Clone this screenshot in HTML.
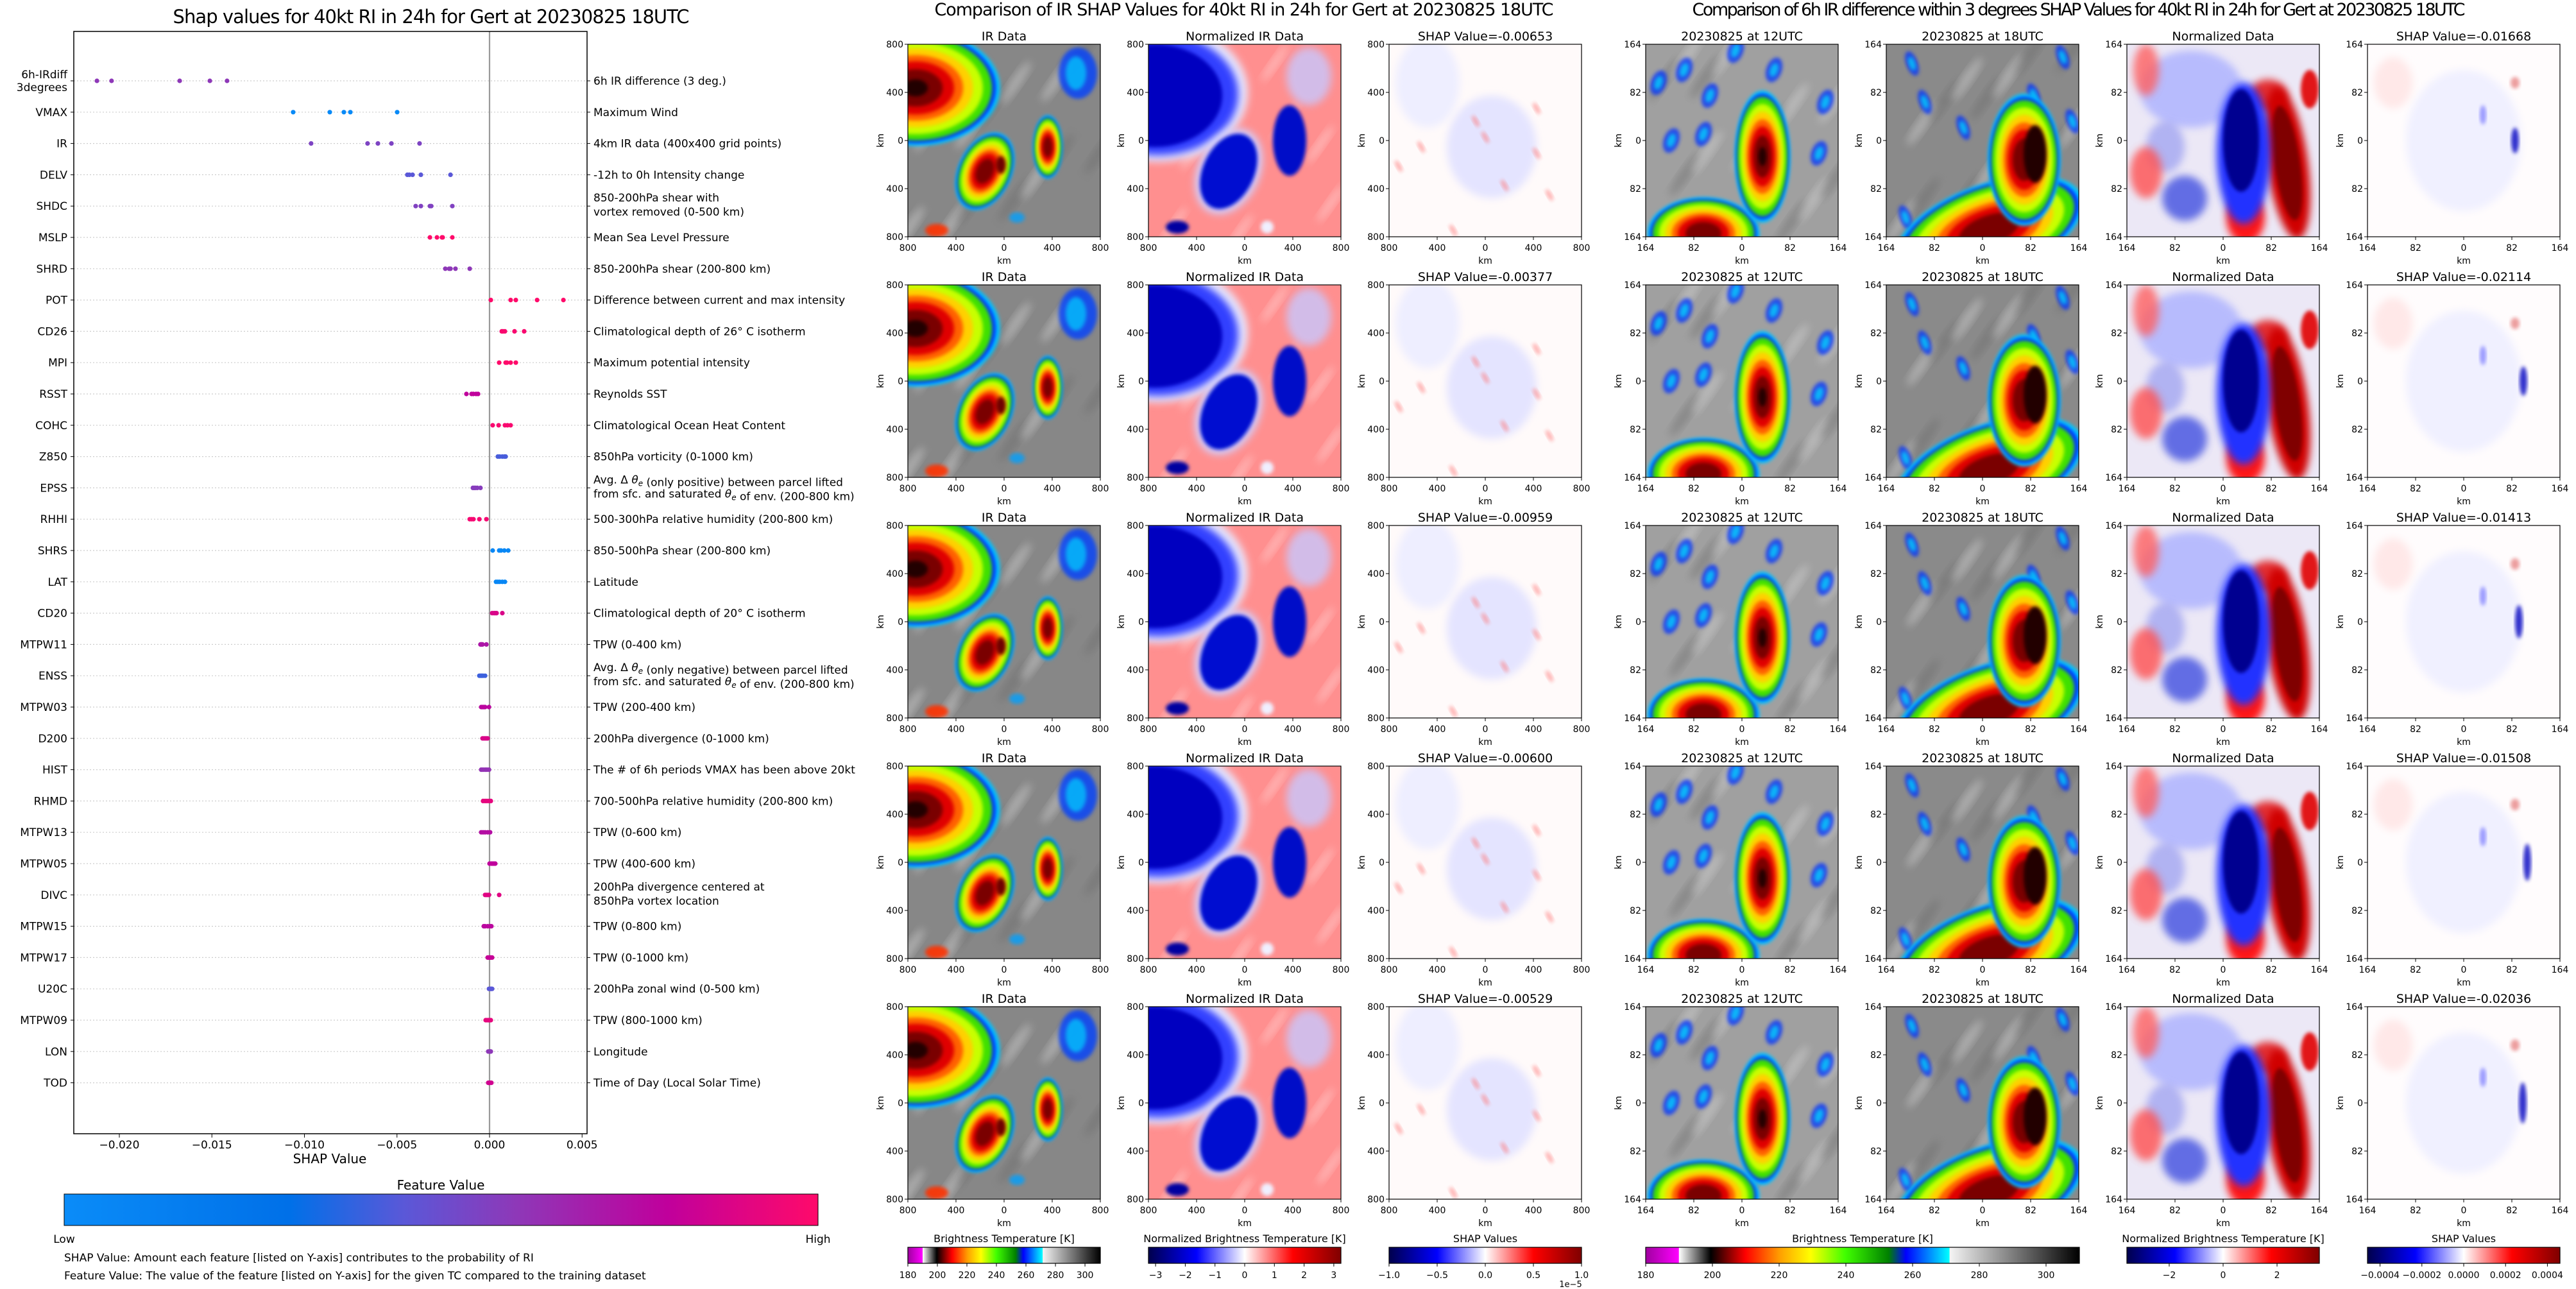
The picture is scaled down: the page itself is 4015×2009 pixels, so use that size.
<!DOCTYPE html>
<html><head><meta charset="utf-8"><style>
html,body{margin:0;padding:0;background:#fff;width:4015px;height:2009px;overflow:hidden}
svg{display:block;font-family:"DejaVu Sans","Liberation Sans",sans-serif}
</style></head><body>
<svg id="fig" xmlns="http://www.w3.org/2000/svg" width="4015" height="2009" viewBox="0 0 4015 2009">
<defs>
<filter id="blur3" x="-20%" y="-20%" width="140%" height="140%"><feGaussianBlur stdDeviation="3"/></filter>
<filter id="blur6" x="-30%" y="-30%" width="160%" height="160%"><feGaussianBlur stdDeviation="6"/></filter>
<linearGradient id="gFeat" x1="0" x2="1" y1="0" y2="0">
<stop offset="0" stop-color="#0a8cf8"/><stop offset="0.3" stop-color="#0070e8"/><stop offset="0.45" stop-color="#5a58d8"/><stop offset="0.6" stop-color="#8e38b8"/><stop offset="0.8" stop-color="#c0009c"/><stop offset="1" stop-color="#ff0a6a"/>
</linearGradient>
<linearGradient id="gIR" x1="0" x2="1" y1="0" y2="0">
<stop offset="0" stop-color="#a000a0"/><stop offset="0.076" stop-color="#ff00ff"/><stop offset="0.077" stop-color="#ffffff"/><stop offset="0.15" stop-color="#000000"/><stop offset="0.19" stop-color="#800000"/><stop offset="0.23" stop-color="#ff0000"/><stop offset="0.31" stop-color="#ffa000"/><stop offset="0.38" stop-color="#ffff00"/><stop offset="0.46" stop-color="#40ff00"/><stop offset="0.56" stop-color="#008000"/><stop offset="0.6" stop-color="#0000ff"/><stop offset="0.7" stop-color="#00ffff"/><stop offset="0.701" stop-color="#f4f4f4"/><stop offset="1" stop-color="#000000"/>
</linearGradient>
<linearGradient id="gSeis" x1="0" x2="1" y1="0" y2="0">
<stop offset="0" stop-color="#00004c"/><stop offset="0.25" stop-color="#0000ff"/><stop offset="0.5" stop-color="#ffffff"/><stop offset="0.75" stop-color="#ff0000"/><stop offset="1" stop-color="#7f0000"/>
</linearGradient>
</defs>
</svg>
<script>
// ---------- data ----------
const features = ["6h-IRdiff","VMAX","IR","DELV","SHDC","MSLP","SHRD","POT","CD26","MPI","RSST","COHC","Z850","EPSS","RHHI","SHRS","LAT","CD20","MTPW11","ENSS","MTPW03","D200","HIST","RHMD","MTPW13","MTPW05","DIVC","MTPW15","MTPW17","U20C","MTPW09","LON","TOD"];
const descriptions = [["6h IR difference (3 deg.)"],["Maximum Wind"],["4km IR data (400x400 grid points)"],["-12h to 0h Intensity change"],["850-200hPa shear with","vortex removed (0-500 km)"],["Mean Sea Level Pressure"],["850-200hPa shear (200-800 km)"],["Difference between current and max intensity"],["Climatological depth of 26° C isotherm"],["Maximum potential intensity"],["Reynolds SST"],["Climatological Ocean Heat Content"],["850hPa vorticity (0-1000 km)"],["Avg. Δ θe (only positive) between parcel lifted","from sfc. and saturated θe of env. (200-800 km)"],["500-300hPa relative humidity (200-800 km)"],["850-500hPa shear (200-800 km)"],["Latitude"],["Climatological depth of 20° C isotherm"],["TPW (0-400 km)"],["Avg. Δ θe (only negative) between parcel lifted","from sfc. and saturated θe of env. (200-800 km)"],["TPW (200-400 km)"],["200hPa divergence (0-1000 km)"],["The # of 6h periods VMAX has been above 20kt"],["700-500hPa relative humidity (200-800 km)"],["TPW (0-600 km)"],["TPW (400-600 km)"],["200hPa divergence centered at","850hPa vortex location"],["TPW (0-800 km)"],["TPW (0-1000 km)"],["200hPa zonal wind (0-500 km)"],["TPW (800-1000 km)"],["Longitude"],["Time of Day (Local Solar Time)"]];
const shapValues = [
[-0.02121,-0.02042,-0.01674,-0.01511,-0.01418],
[-0.01061,-0.00863,-0.00787,-0.00752,-0.00499],
[-0.00964,-0.00659,-0.00603,-0.00530,-0.00378],
[-0.00444,-0.00433,-0.00416,-0.00371,-0.00211],
[-0.00399,-0.00371,-0.00322,-0.00315,-0.00201],
[-0.00322,-0.00284,-0.00257,-0.00253,-0.00201],
[-0.00239,-0.00218,-0.00211,-0.00184,-0.00107],
[0.00007,0.00114,0.00142,0.00257,0.00399],
[0.00066,0.00073,0.00083,0.00135,0.00187],
[0.00052,0.00087,0.00094,0.00114,0.00142],
[-0.00125,-0.00097,-0.00087,-0.00073,-0.00062],
[0.00017,0.00049,0.00083,0.00097,0.00114],
[0.00045,0.00055,0.00069,0.00080,0.00087],
[-0.00090,-0.00083,-0.00076,-0.00066,-0.00049],
[-0.00107,-0.00097,-0.00087,-0.00055,-0.00017],
[0.00017,0.00052,0.00062,0.00080,0.00101],
[0.00035,0.00045,0.00055,0.00069,0.00083],
[0.00014,0.00024,0.00031,0.00038,0.00069],
[-0.00049,-0.00045,-0.00042,-0.00038,-0.00017],
[-0.00055,-0.00048,-0.00042,-0.00035,-0.00024],
[-0.00045,-0.00038,-0.00031,-0.00024,-0.00003],
[-0.00038,-0.00031,-0.00024,-0.00017,-0.00010],
[-0.00045,-0.00035,-0.00024,-0.00014,-0.00003],
[-0.00035,-0.00024,-0.00014,-0.00003,0.00007],
[-0.00045,-0.00035,-0.00024,-0.00010,0.00003],
[0.00000,0.00010,0.00017,0.00024,0.00031],
[-0.00024,-0.00017,-0.00010,-0.00003,0.00052],
[-0.00031,-0.00024,-0.00010,0.00003,0.00010],
[-0.00010,-0.00003,0.00003,0.00007,0.00014],
[-0.00003,0.00003,0.00007,0.00010,0.00014],
[-0.00021,-0.00014,-0.00007,0.00000,0.00007],
[-0.00007,0.00000,0.00003,0.00007,0.00003],
[-0.00007,-0.00003,0.00000,0.00003,0.00010]];
const featureValues = [0.6,0.02,0.55,0.45,0.56,1.0,0.6,1.0,0.98,1.0,0.8,0.98,0.42,0.58,0.97,0.05,0.05,0.88,0.72,0.4,0.78,0.88,0.62,0.92,0.75,0.8,0.9,0.78,0.82,0.45,0.92,0.6,0.85];
const xTicks = [-0.020,-0.015,-0.010,-0.005,0.000,0.005];
const irTitlesMid = ["IR Data","Normalized IR Data"];
const midShap = ["-0.00653","-0.00377","-0.00959","-0.00600","-0.00529"];
const rightShap = ["-0.01668","-0.02114","-0.01413","-0.01508","-0.02036"];
const kmTicksMid = ["800","400","0","400","800"];
const kmTicksRight = ["164","82","0","82","164"];
const cbIRTicks = [180,200,220,240,260,280,300];
const cbNormTicksMid = [-3,-2,-1,0,1,2,3];
const cbShapTicksMid = [-1.0,-0.5,0.0,0.5,1.0];
const cbNormTicksRight = [-2,0,2];
const cbShapTicksRight = [-0.0004,-0.0002,0.0000,0.0002,0.0004];

// ---------- helpers ----------
const NS="http://www.w3.org/2000/svg";
const svg=document.getElementById('fig');
function mk(tag,attrs,parent){const e=document.createElementNS(NS,tag);for(const k in attrs)e.setAttribute(k,attrs[k]);(parent||svg).appendChild(e);return e;}
function txt(s,attrs,parent){const t=mk('text',attrs,parent);t.textContent=s;return t;}
function minus(s){return String(s).replace('-','\u2212');}
function lerp(a,b,t){return a+(b-a)*t;}
const featStops=[[0,[10,140,248]],[0.3,[0,112,232]],[0.45,[90,88,216]],[0.6,[142,56,184]],[0.8,[192,0,156]],[1,[255,10,106]]];
function featColor(v){for(let i=1;i<featStops.length;i++){if(v<=featStops[i][0]){const a=featStops[i-1],b=featStops[i];const t=(v-a[0])/(b[0]-a[0]);return 'rgb('+a[1].map((c,j)=>Math.round(lerp(c,b[1][j],t))).join(',')+')';}}return 'rgb(255,10,106)';}

// ---------- left summary plot ----------
const PX0=115,PX1=915,PY0=49,PY1=1767;
const X0PIX=763, PXPER=144.25/0.005;
function xScale(v){return X0PIX+v*PXPER;}
function rowY(i){return 126+i*48.8;}
const left=mk('g',{});


const ttl=txt('Shap values for 40kt RI in 24h for Gert at 20230825 18UTC',{x:672,y:36,'font-size':29,'text-anchor':'middle',textLength:805},left);


features.forEach((f,i)=>{
  const y=rowY(i);
  const gl=mk('line',{x1:PX0,x2:PX1,y1:y,y2:y,stroke:'#cccccc','stroke-width':1.2,'stroke-dasharray':'2,3'},left);
  
  
  mk('line',{x1:PX0-5,x2:PX0,y1:y,y2:y,stroke:'#000','stroke-width':1},left);
  mk('line',{x1:PX1,x2:PX1+5,y1:y,y2:y,stroke:'#000','stroke-width':1},left);
  const parts=f==='6h-IRdiff'?['6h-IRdiff','3degrees']:[f];
  parts.forEach((p,k)=>{
    const yy=parts.length>1?y-4+k*20:y+6;
    const lt=txt(p,{x:105,y:yy,'font-size':17,'text-anchor':'end'},left);
    
    
  });
  const d=descriptions[i];
  d.forEach((line,k)=>{
    const yy=d.length>1?y-7+k*22:y+6;
    const rt=mk('text',{x:925,y:yy,'font-size':17},left);
    
    
    const segs=line.split('θe');
    segs.forEach((s,si)=>{
      const t1=mk('tspan',{},rt);t1.textContent=s;
      if(si<segs.length-1){const th=mk('tspan',{'font-style':'italic'},rt);th.textContent='θ';const sub=mk('tspan',{'font-size':12,dy:4,'font-style':'italic'},rt);sub.textContent='e';const back=mk('tspan',{dy:-4},rt);back.textContent='';}
    });
  });
});
const zl=mk('line',{x1:xScale(0),x2:xScale(0),y1:PY0,y2:PY1,stroke:'#999','stroke-width':2.2},left);


shapValues.forEach((vals,i)=>{
  vals.forEach(v=>{
    const c=mk('circle',{cx:xScale(v),cy:rowY(i),r:3.6,fill:featColor(featureValues[i])},left);
    
    
  });
});
const frame=mk('rect',{x:PX0,y:PY0,width:PX1-PX0,height:PY1-PY0,fill:'none',stroke:'#000','stroke-width':1.5},left);


xTicks.forEach(t=>{
  const x=xScale(t);
  mk('line',{x1:x,x2:x,y1:PY1,y2:PY1+6,stroke:'#000','stroke-width':1},left);
  const tl=txt(minus(t.toFixed(3)),{x:x,y:1790,'font-size':17,'text-anchor':'middle'},left);
  
  
});
const xt=txt('SHAP Value',{x:514,y:1813,'font-size':20,'text-anchor':'middle'},left);


const fvt=txt('Feature Value',{x:687,y:1854,'font-size':20,'text-anchor':'middle'},left);


const fcb=mk('rect',{x:100,y:1861,width:1175,height:49,fill:'url(#gFeat)',stroke:'#000','stroke-width':1},left);


const lo=txt('Low',{x:100,y:1937,'font-size':17,'text-anchor':'middle'},left);


const hi=txt('High',{x:1275,y:1937,'font-size':17,'text-anchor':'middle'},left);


const n1=txt('SHAP Value: Amount each feature [listed on Y-axis] contributes to the probability of RI',{x:100,y:1966,'font-size':17},left);


const n2=txt('Feature Value: The value of the feature [listed on Y-axis] for the given TC compared to the training dataset',{x:100,y:1994,'font-size':17},left);



// ---------- image panels ----------
let clipId=0;
function ell(g,cx,cy,rx,ry,fill,op,rot,filt){const a={cx,cy,rx,ry,fill};if(op!==undefined)a.opacity=op;if(rot)a.transform='rotate('+rot+' '+cx+' '+cy+')';if(filt)a.filter='url(#'+filt+')';return mk('ellipse',a,g);}
function irBlob(g,cx,cy,rx,ry,rot,core){
  const rings=[['#00c8ff',1.03],['#0030ff',0.98],['#40e000',0.93],['#c8ff00',0.82],['#ffd000',0.7],['#ff6000',0.58],['#e00000',0.47],['#7a0000',0.33]];
  if(core)rings.push(['#200000',0.15]);
  rings.forEach(r=>ell(g,cx,cy,rx*r[1],ry*r[1],r[0],1,rot,'blur3'));
}
function grayBg(g,base,seed){
  mk('rect',{x:0,y:0,width:300,height:300,fill:base},g);
  for(let i=0;i<14;i++){const cx=(i*67+seed*31)%300,cy=(i*113+seed*17)%300;ell(g,cx,cy,40,8,i%2?'#d8d8d8':'#6a6a6a',0.45,-55,'blur6');}
}
function irMid(g){
  grayBg(g,'#878787',1);
  ell(g,265,45,30,40,'#0040ff',0.8,0,'blur3');ell(g,262,45,16,26,'#00d0ff',0.7,0,'blur3');
  irBlob(g,12,68,128,88,0,true);
  irBlob(g,120,198,40,62,25,false);
  irBlob(g,218,160,22,48,0,false);
  ell(g,145,188,8,14,'#700000',1,0,'blur3');
  ell(g,45,290,18,10,'#ff3000',0.9,0,'blur3');
  ell(g,170,270,12,8,'#00a0ff',0.8,0,'blur3');
}
function normMid(g){
  mk('rect',{x:0,y:0,width:300,height:300,fill:'#ff8f8f'},g);
  for(let i=0;i<10;i++){ell(g,(i*71)%300,(i*127+40)%300,35,6,'#ffd0d0',0.6,-55,'blur6');}
  ell(g,250,50,35,45,'#c8c8ff',0.8,0,'blur6');
  ell(g,15,75,140,108,'#e8e8ff',1,0,'blur6');
  ell(g,15,78,125,95,'#3040ff',1,0,'blur6');
  ell(g,10,80,105,80,'#0000c0',1,0,'blur3');
  ell(g,125,198,48,70,'#d0d0ff',1,25,'blur6');
  ell(g,125,198,40,62,'#0010d0',1,25,'blur3');
  ell(g,220,150,26,55,'#0010c8',1,0,'blur3');
  ell(g,45,285,18,10,'#0000a0',1,0,'blur3');
  ell(g,185,285,10,10,'#f0f0ff',1,0,'blur3');
}
function shapMid(g){
  mk('rect',{x:0,y:0,width:300,height:300,fill:'#fffafa'},g);
  ell(g,60,60,50,70,'#eeeeff',1,0,'blur6');
  ell(g,160,160,70,80,'#e4e4ff',1,0,'blur6');
  [[135,120],[150,145],[230,100],[230,170],[15,190],[50,160],[250,235],[100,290],[180,220]].forEach(p=>ell(g,p[0],p[1],4,10,'#ff7070',0.5,-30,'blur3'));
}
function ir12(g){
  grayBg(g,'#a0a0a0',3);
  [[60,40],[100,80],[20,60],[280,90],[40,150],[90,140],[270,170],[140,10],[200,40]].forEach(p=>{ell(g,p[0],p[1],12,20,'#0030ff',0.75,20,'blur3');ell(g,p[0],p[1],6,11,'#00e0ff',0.7,20,'blur3');});
  irBlob(g,90,295,85,55,0,false);
  irBlob(g,182,175,42,100,0,true);
}
function ir18(g){
  grayBg(g,'#8a8a8a',5);
  [[40,30],[60,90],[30,270],[275,20],[230,80],[290,120],[120,130]].forEach(p=>{ell(g,p[0],p[1],9,20,'#0030ff',0.75,-20,'blur3');ell(g,p[0],p[1],5,11,'#00e0ff',0.7,-20,'blur3');});
  irBlob(g,160,290,150,70,-20,false);
  irBlob(g,215,180,55,100,0,false);
  ell(g,232,171,18,45,'#200000',1,0,'blur3');
}
function normR(g){
  mk('rect',{x:0,y:0,width:300,height:300,fill:'#ece8f6'},g);
  ell(g,100,70,80,60,'#aab0ff',0.8,0,'blur6');
  ell(g,60,160,30,40,'#8a90f0',0.6,0,'blur6');
  ell(g,30,40,20,40,'#ff6060',0.8,0,'blur6');
  ell(g,30,200,25,40,'#ff5050',0.8,0,'blur6');
  ell(g,90,240,35,35,'#4050e0',0.8,0,'blur6');
  ell(g,285,70,14,30,'#e00000',0.9,0,'blur3');
  ell(g,220,80,30,25,'#e00000',0.8,0,'blur6');
  ell(g,250,185,32,120,'#d00000',1,-8,'blur6');
  ell(g,250,185,20,90,'#800000',1,-8,'blur3');
  ell(g,185,270,30,40,'#ff0000',0.9,0,'blur6');
  ell(g,182,170,42,110,'#2030ff',1,0,'blur6');
  ell(g,178,150,28,80,'#000090',1,0,'blur3');
}
function shapR(g,r){
  mk('rect',{x:0,y:0,width:300,height:300,fill:'#fffcfd'},g);
  ell(g,150,150,90,110,'#f0f0ff',1,0,'blur6');
  ell(g,40,60,30,40,'#ffe8e8',1,0,'blur6');
  ell(g,240+((r*13)%20)-10,150,6,20+r*3,'#0000c0',0.8,0,'blur3');
  ell(g,180,110,5,15,'#6060ff',0.6,0,'blur3');
  ell(g,230,60,7,9,'#e06060',0.6,0,'blur3');
}
function panel(x,y,drawFn,title,ticks,name,r){
  const g=mk('g',{transform:'translate('+x+','+y+')'});
  
  
  const id='cp'+(clipId++);
  const cp=mk('clipPath',{id:id},g);mk('rect',{x:0,y:0,width:300,height:300},cp);
  const img=mk('g',{'clip-path':'url(#'+id+')'},g);
  drawFn(img,r);
  mk('rect',{x:0,y:0,width:300,height:300,fill:'none',stroke:'#000','stroke-width':1.2},g);
  const t=txt(title,{x:150,y:-6,'font-size':19,'text-anchor':'middle'},g);
  
  
  ticks.forEach((lab,k)=>{
    const p=k*75;
    mk('line',{x1:-5,x2:0,y1:p,y2:p,stroke:'#000'},g);
    mk('line',{x1:p,x2:p,y1:300,y2:305,stroke:'#000'},g);
    const yl=txt(lab,{x:-7,y:p+5,'font-size':14,'text-anchor':'end'},g);
    
    
    const xl=txt(lab,{x:p,y:322,'font-size':14,'text-anchor':'middle'},g);
    
    
  });
  const xk=txt('km',{x:150,y:342,'font-size':14,'text-anchor':'middle'},g);
  
  
  const yk=txt('km',{x:0,y:0,'font-size':14,'text-anchor':'middle',transform:'translate(-38,150) rotate(-90)'},g);
  
  
}
const MX=[1415,1790,2165], RX=[2565,2940,3315,3690], rowTops=[69,444,819,1194,1569];
const mt=txt('Comparison of IR SHAP Values for 40kt RI in 24h for Gert at 20230825 18UTC',{x:1939,y:24,'font-size':27,'text-anchor':'middle',textLength:965},svg);


const rt=txt('Comparison of 6h IR difference within 3 degrees SHAP Values for 40kt RI in 24h for Gert at 20230825 18UTC',{x:3240,y:24,'font-size':27,'text-anchor':'middle',textLength:1205},svg);


rowTops.forEach((y,r)=>{
  panel(MX[0],y,irMid,irTitlesMid[0],kmTicksMid,'ir-data-panel',r);
  panel(MX[1],y,normMid,irTitlesMid[1],kmTicksMid,'normalized-ir-panel',r);
  panel(MX[2],y,shapMid,'SHAP Value='+midShap[r],kmTicksMid,'ir-shap-panel',r);
  panel(RX[0],y,ir12,'20230825 at 12UTC',kmTicksRight,'ir-12utc-panel',r);
  panel(RX[1],y,ir18,'20230825 at 18UTC',kmTicksRight,'ir-18utc-panel',r);
  panel(RX[2],y,normR,'Normalized Data',kmTicksRight,'normalized-diff-panel',r);
  panel(RX[3],y,shapR,'SHAP Value='+rightShap[r],kmTicksRight,'irdiff-shap-panel',r);
});

// ---------- colorbars ----------
function colorbar(x,w,grad,title,ticks,vmin,vmax,fmt,name){
  const g=mk('g',{});
  
  
  mk('rect',{x:x,y:1944,width:w,height:25,fill:'url(#'+grad+')',stroke:'#000','stroke-width':1.2},g);
  const t=txt(title,{x:x+w/2,y:1936,'font-size':16,'text-anchor':'middle'},g);
  
  
  ticks.forEach(v=>{
    const px=x+(v-vmin)/(vmax-vmin)*w;
    mk('line',{x1:px,x2:px,y1:1969,y2:1974,stroke:'#000'},g);
    const l=txt(minus(fmt(v)),{x:px,y:1992,'font-size':14,'text-anchor':'middle'},g);
    
    
  });
  return g;
}
colorbar(1415,300,'gIR','Brightness Temperature [K]',cbIRTicks,180,310.4,v=>String(v),'ir-colorbar');
colorbar(1790,300,'gSeis','Normalized Brightness Temperature [K]',cbNormTicksMid,-3.24,3.24,v=>String(v),'normalized-colorbar');
const sc=colorbar(2165,300,'gSeis','SHAP Values',cbShapTicksMid,-1,1,v=>v.toFixed(1),'shap-colorbar');
const ex=txt('1e\u22125',{x:2448,y:2006,'font-size':13,'text-anchor':'middle'},sc);


colorbar(2565,676,'gIR','Brightness Temperature [K]',cbIRTicks,180,310,v=>String(v),'irdiff-bt-colorbar');
colorbar(3315,300,'gSeis','Normalized Brightness Temperature [K]',cbNormTicksRight,-3.57,3.57,v=>String(v),'irdiff-normalized-colorbar');
colorbar(3690,300,'gSeis','SHAP Values',cbShapTicksRight,-0.00046,0.00046,v=>v.toFixed(4),'irdiff-shap-colorbar');
</script>
</body></html>
